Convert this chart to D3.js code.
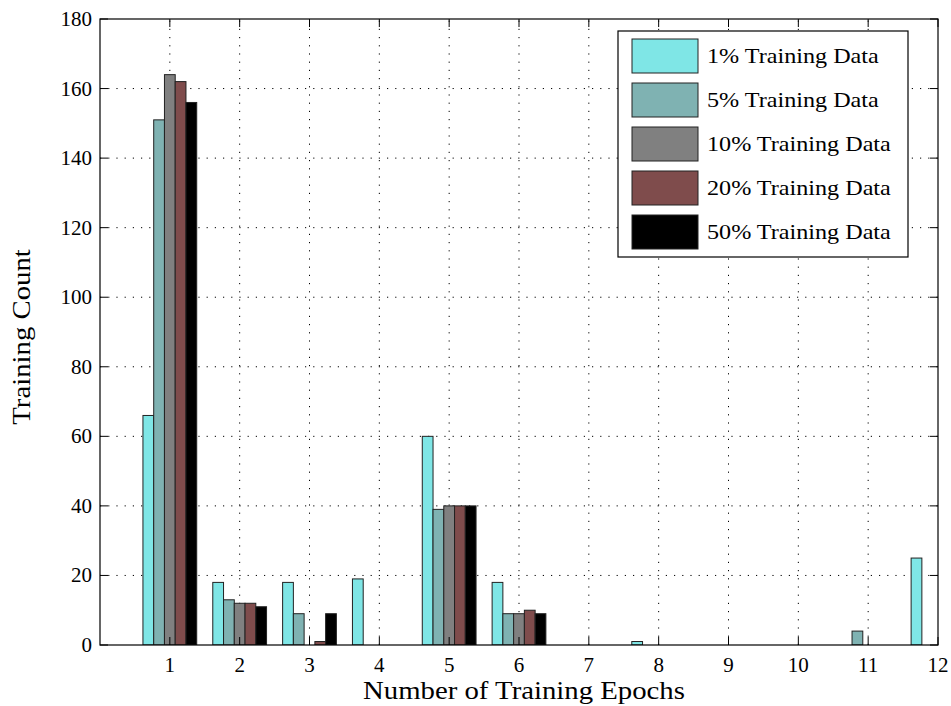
<!DOCTYPE html>
<html>
<head>
<meta charset="utf-8">
<script src="https://cdn.jsdelivr.net/npm/d3@7/dist/d3.min.js"></script>
<style>
body{margin:0;background:#fff;}
svg{display:block;}
text{font-family:"Liberation Serif","DejaVu Serif",serif;fill:#000;}
</style>
</head>
<body>
<svg id="chart" width="951" height="706"></svg>
<script>
const epochs = [1,2,3,4,5,6,7,8,9,10,11,12];
const seriesNames = ["1% Training Data","5% Training Data","10% Training Data","20% Training Data","50% Training Data"];
const s1  = [66,18,18,19,60,18,0,1,0,0,0,25];
const s5  = [151,13,9,0,39,9,0,0,0,0,4,0];
const s10 = [164,12,0,0,40,9,0,0,0,0,0,0];
const s20 = [162,12,1,0,40,10,0,0,0,0,0,0];
const s50 = [156,11,9,0,40,9,0,0,0,0,0,0];
const colors = ["#7fe6e6","#7fb2b2","#808080","#7f4c4c","#000000"];
const yTicks = [0,20,40,60,80,100,120,140,160,180];
const xTicks = [1,2,3,4,5,6,7,8,9,10,11,12];

const series = [s1,s5,s10,s20,s50];
const svg = d3.select("#chart");
const L=100, R=938, T=19, B=645;
const x = d3.scaleLinear().domain([0,12]).range([L,R]);
const y = d3.scaleLinear().domain([0,180]).range([B,T]);
const bw = 0.154;
const stretch = 1.15;
function widen(sel){ sel.each(function(){ const w=this.getComputedTextLength(); d3.select(this).attr("textLength",w*stretch).attr("lengthAdjust","spacingAndGlyphs"); }); }

svg.append("defs").append("clipPath").attr("id","clip")
  .append("rect").attr("x",L).attr("y",T).attr("width",R-L).attr("height",B-T);

// grid
const grid = svg.append("g").attr("stroke","#000").attr("stroke-width",1).attr("stroke-dasharray","1.2,7");
grid.selectAll(".gx").data(xTicks.filter(d=>d<12)).enter().append("line")
  .attr("x1",d=>x(d)).attr("x2",d=>x(d)).attr("y1",B).attr("y2",T);
grid.selectAll(".gy").data(yTicks.filter(d=>d>0&&d<180)).enter().append("line")
  .attr("x1",L).attr("x2",R).attr("y1",d=>y(d)).attr("y2",d=>y(d));

// bars
const bars = svg.append("g").attr("clip-path","url(#clip)");
series.forEach((s,i)=>{
  bars.selectAll(".b"+i).data(s.map((v,j)=>({e:epochs[j],v}))).enter().append("rect")
    .attr("x",d=>x(d.e+(i-2.5)*bw))
    .attr("width",x(bw)-x(0))
    .attr("y",d=>y(d.v))
    .attr("height",d=>y(0)-y(d.v))
    .attr("fill",colors[i])
    .attr("stroke","#222").attr("stroke-width",1);
});

// ticks (inward, both sides)
const tk = svg.append("g").attr("stroke","#000").attr("stroke-width",1);
xTicks.forEach(d=>{
  tk.append("line").attr("x1",x(d)).attr("x2",x(d)).attr("y1",B).attr("y2",B-8);
  tk.append("line").attr("x1",x(d)).attr("x2",x(d)).attr("y1",T).attr("y2",T+8);
});
yTicks.forEach(d=>{
  tk.append("line").attr("x1",L).attr("x2",L+8).attr("y1",y(d)).attr("y2",y(d));
  tk.append("line").attr("x1",R).attr("x2",R-8).attr("y1",y(d)).attr("y2",y(d));
});

// frame
svg.append("rect").attr("x",L).attr("y",T).attr("width",R-L).attr("height",B-T)
  .attr("fill","none").attr("stroke","#000").attr("stroke-width",1.2);

// tick labels
svg.selectAll(".xl").data(xTicks).enter().append("text")
  .attr("x",d=>x(d)).attr("y",B+27).attr("text-anchor","middle")
  .attr("font-size",21).text(d=>d);
svg.selectAll(".yl").data(yTicks).enter().append("text")
  .attr("x",L-8).attr("y",d=>y(d)+7).attr("text-anchor","end")
  .attr("font-size",21).text(d=>d);

// axis labels
svg.append("text").attr("x",(L+R)/2+5).attr("y",699).attr("text-anchor","middle")
  .attr("font-size",25).text("Number of Training Epochs").call(widen);
svg.append("text").attr("transform",`translate(30,${(T+B)/2+5}) rotate(-90)`)
  .attr("text-anchor","middle").attr("font-size",25).text("Training Count").call(widen);

// legend
const lg = svg.append("g");
lg.append("rect").attr("x",618).attr("y",31).attr("width",290).attr("height",226)
  .attr("fill","#fff").attr("stroke","#000").attr("stroke-width",1.2);
seriesNames.forEach((n,i)=>{
  lg.append("rect").attr("x",632).attr("y",39+i*44).attr("width",66).attr("height",34)
    .attr("fill",colors[i]).attr("stroke","#222").attr("stroke-width",1);
  lg.append("text").attr("x",707).attr("y",39+i*44+24).attr("font-size",21).text(n).call(widen);
});
</script>
</body>
</html>
